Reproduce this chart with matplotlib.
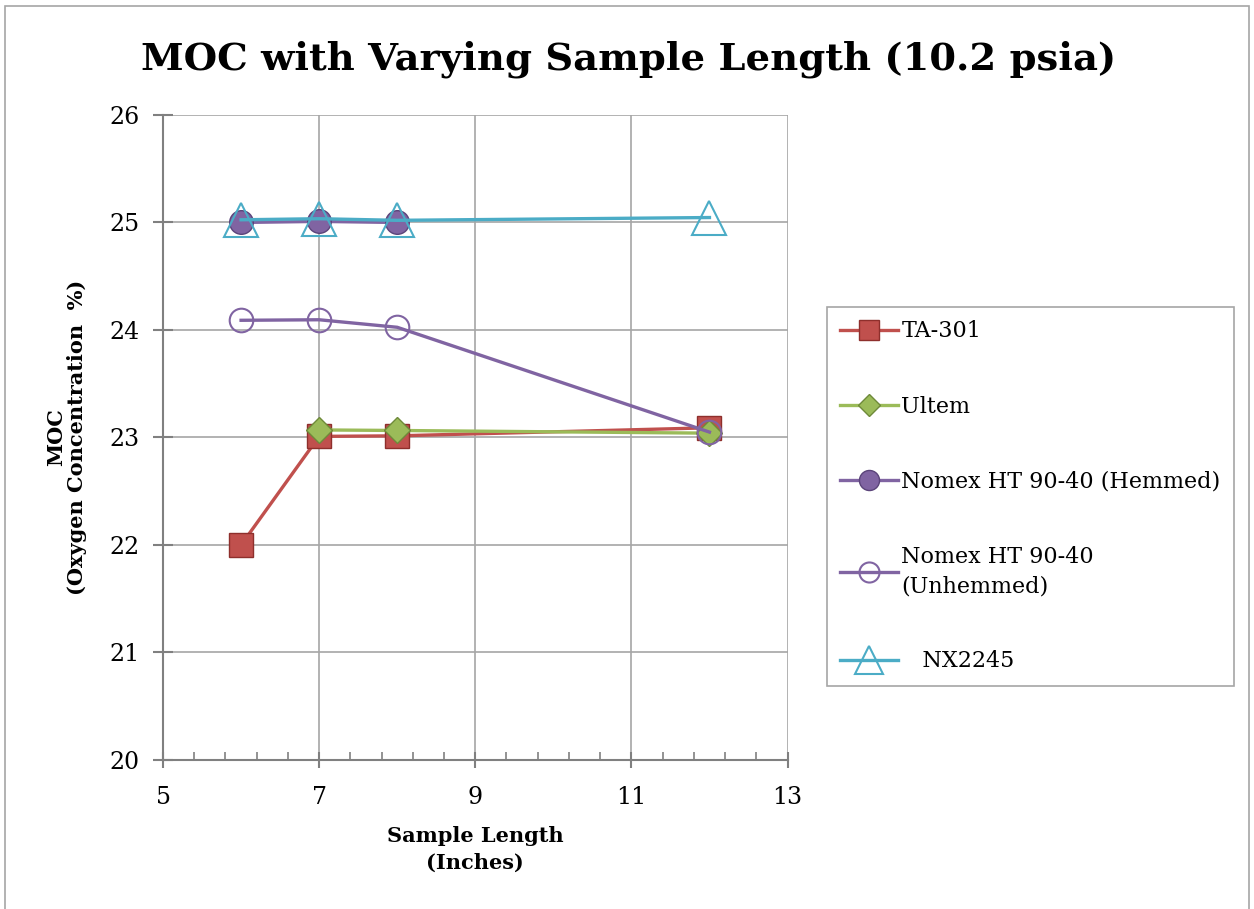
import matplotlib
matplotlib.use("Agg")
import matplotlib.pyplot as plt
from matplotlib.patches import Rectangle
from matplotlib.ticker import MultipleLocator

# sample lengths (inches) and MOC values
x_ta301 = [6, 7, 8, 12]
y_ta301 = [22.0, 23.01, 23.015, 23.09]

x_ultem = [7, 8, 12]
y_ultem = [23.07, 23.065, 23.04]

x_hemmed = [6, 7, 8]
y_hemmed = [25.0, 25.01, 25.0]

x_unhemmed = [6, 7, 8, 12]
y_unhemmed = [24.09, 24.095, 24.025, 23.05]

x_nx2245 = [6, 7, 8, 12]
y_nx2245 = [25.025, 25.035, 25.02, 25.046]

labels = ['TA-301', 'Ultem', 'Nomex HT 90-40 (Hemmed)',
          'Nomex HT 90-40\n(Unhemmed)', '   NX2245']

red = '#C0504D'
green = '#9BBB59'
purple = '#8064A2'
cyan = '#4BACC6'

plt.rcParams['font.family'] = ['DejaVu Serif']

fig = plt.figure(figsize=(12.54, 9.09), dpi=100)
ax = fig.add_axes([0.130, 0.164, 0.498, 0.7095])

ax.plot(x_ta301, y_ta301, color=red, lw=2.4, marker='s', ms=17,
        mfc=red, mec='#8E2F2C', mew=1, label=labels[0])
ax.plot(x_ultem, y_ultem, color=green, lw=2.4, marker='D', ms=13,
        mfc=green, mec='#6E8A3A', mew=1, label=labels[1])
ax.plot(x_hemmed, y_hemmed, color=purple, lw=2.4, marker='o', ms=17,
        mfc=purple, mec='#5B447A', mew=1, label=labels[2])
ax.plot(x_unhemmed, y_unhemmed, color=purple, lw=2.4, marker='o', ms=17,
        mfc='none', mec=purple, mew=1.5, label=labels[3])
ax.plot(x_nx2245, y_nx2245, color=cyan, lw=2.4, marker='^', ms=24,
        mfc='none', mec=cyan, mew=1.5, label=labels[4])

ax.set_xlim(5, 13)
ax.set_ylim(20, 26)
ax.set_xticks([5, 7, 9, 11, 13])
ax.set_yticks([20, 21, 22, 23, 24, 25, 26])
ax.xaxis.set_minor_locator(MultipleLocator(0.4, offset=0.2))
ax.grid(True, which='major', color='#A6A6A6', lw=1.2)
ax.tick_params(axis='both', which='major', labelsize=17, colors='#808080',
               labelcolor='black', width=1.5)
ax.tick_params(axis='y', which='major', direction='inout', length=14, pad=10)
ax.tick_params(axis='x', which='major', direction='inout', length=12, pad=13)
ax.tick_params(axis='x', which='minor', direction='in', length=6,
               colors='#808080', width=1.2)
for s in ['top', 'right']:
    ax.spines[s].set_visible(False)
for s in ['left', 'bottom']:
    ax.spines[s].set_color('#808080')
    ax.spines[s].set_linewidth(1.5)

ax.set_xlabel('Sample Length\n(Inches)', fontsize=15, fontweight='bold',
              labelpad=12, linespacing=1.45)
ax.set_ylabel('MOC\n(Oxygen Concentration  %)', fontsize=15,
              fontweight='bold', labelpad=16, linespacing=1.05)

fig.text(0.5016, 0.935, 'MOC with Varying Sample Length (10.2 psia)',
         ha='center', va='center', fontsize=27.7, fontweight='bold')

leg = ax.legend(loc='upper left', bbox_to_anchor=(0.6595, 0.6623),
                bbox_transform=fig.transFigure, fontsize=16,
                labelspacing=2.4, handlelength=2.6, handletextpad=0.15,
                borderpad=0.6, borderaxespad=0, fancybox=False,
                framealpha=1, edgecolor='#A6A6A6', markerscale=0.85)
leg.get_frame().set_linewidth(1.2)
for t in leg.get_texts():
    t.set_linespacing(1.4)

fig.patches.append(Rectangle((0.004, -0.05), 0.992, 1.043,
                             transform=fig.transFigure, fill=False,
                             edgecolor='#A6A6A6', lw=1.2))

fig.savefig('out.png', dpi=100)
